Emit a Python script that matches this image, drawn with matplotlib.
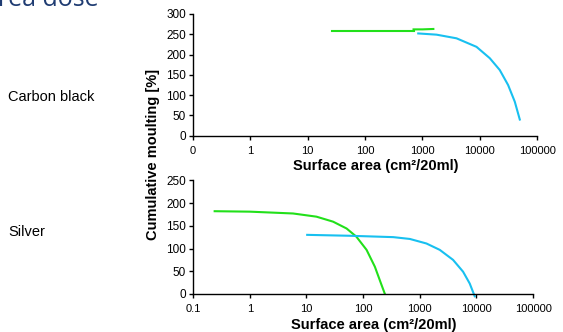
import numpy as np
import matplotlib
matplotlib.use('Agg')
import matplotlib.pyplot as plt

plt.rcParams['font.family'] = ['Liberation Sans', 'DejaVu Sans']

# Carbon black panel
cb_green_x = [26, 100, 300, 700]
cb_green_y = [259, 259, 259, 259]
cb_green2_x = [700, 1000, 1550]
cb_green2_y = [262, 262, 263]
cb_cyan_x = [845, 1760, 3930, 8770, 14960, 22300, 31200, 40800, 49900]
cb_cyan_y = [252, 249, 240, 219, 191, 162, 125, 84, 40]

# Silver panel
ag_green_x = [0.24, 1.0, 5.8, 15, 29.5, 51, 76, 115, 161, 211, 242]
ag_green_y = [182, 181, 177, 170, 159, 144, 126, 97, 60, 20, 0]
ag_cyan_x = [10.3, 58, 340, 667, 1310, 2250, 3860, 5800, 7600, 9300]
ag_cyan_y = [130, 128, 125, 121, 111, 97, 75, 49, 23, -5]

xticks = [0.1, 1, 10, 100, 1000, 10000, 100000]
top_labels = ['0', '1', '10', '100', '1000', '10000', '100000']
bot_labels = ['0.1', '1', '10', '100', '1000', '10000', '100000']

green = '#22e01a'
cyan = '#18c0f0'

fig = plt.figure(figsize=(5.63, 3.32), dpi=100)

def style(ax, labels, ymax, ystep):
    ax.set_xscale('log')
    ax.set_xlim(0.1, 100000)
    ax.set_ylim(0, ymax)
    ax.set_xticks(xticks)
    ax.set_xticklabels(labels)
    ax.minorticks_off()
    ax.set_yticks(np.arange(0, ymax + 1, ystep))
    for s in ['top', 'right']:
        ax.spines[s].set_visible(False)
    for s in ['left', 'bottom']:
        ax.spines[s].set_linewidth(1.0)
    ax.tick_params(length=3, width=1, pad=2, colors='black')
    ax.tick_params(axis='x', labelsize=8, pad=4)
    ax.tick_params(axis='y', labelsize=8.5)
    ax.set_xlabel('Surface area (cm²/20ml)', fontsize=10.5, fontweight='bold')

ax1 = fig.add_axes([0.343, 0.591, 0.611, 0.367])
ax1.plot(cb_green_x, cb_green_y, color=green, lw=1.5)
ax1.plot(cb_green2_x, cb_green2_y, color=green, lw=1.5)
ax1.plot(cb_cyan_x, cb_cyan_y, color=cyan, lw=1.5)
style(ax1, top_labels, 300, 50)
ax1.xaxis.set_label_coords(0.53, -0.19)

ax2 = fig.add_axes([0.343, 0.1145, 0.604, 0.3425])
ax2.plot(ag_green_x, ag_green_y, color=green, lw=1.5)
ax2.plot(ag_cyan_x, ag_cyan_y, color=cyan, lw=1.5, clip_on=False)
style(ax2, bot_labels, 250, 50)
ax2.xaxis.set_label_coords(0.53, -0.21)

fig.text(153 / 563, 1 - 154 / 332, 'Cumulative moulting [%]', rotation=90, fontsize=10.5,
         fontweight='bold', ha='center', va='center')
fig.text(8 / 563, 1 - 97 / 332, 'Carbon black', fontsize=10.5, va='center')
fig.text(8 / 563, 1 - 232 / 332, 'Silver', fontsize=10.5, va='center')
fig.text(99 / 563, 1 - 6 / 332, 'area dose', fontsize=18, color='#1f3c72',
         ha='right', va='baseline', family=['Open Sans', 'DejaVu Sans'])

fig.savefig('out.png', dpi=100)
